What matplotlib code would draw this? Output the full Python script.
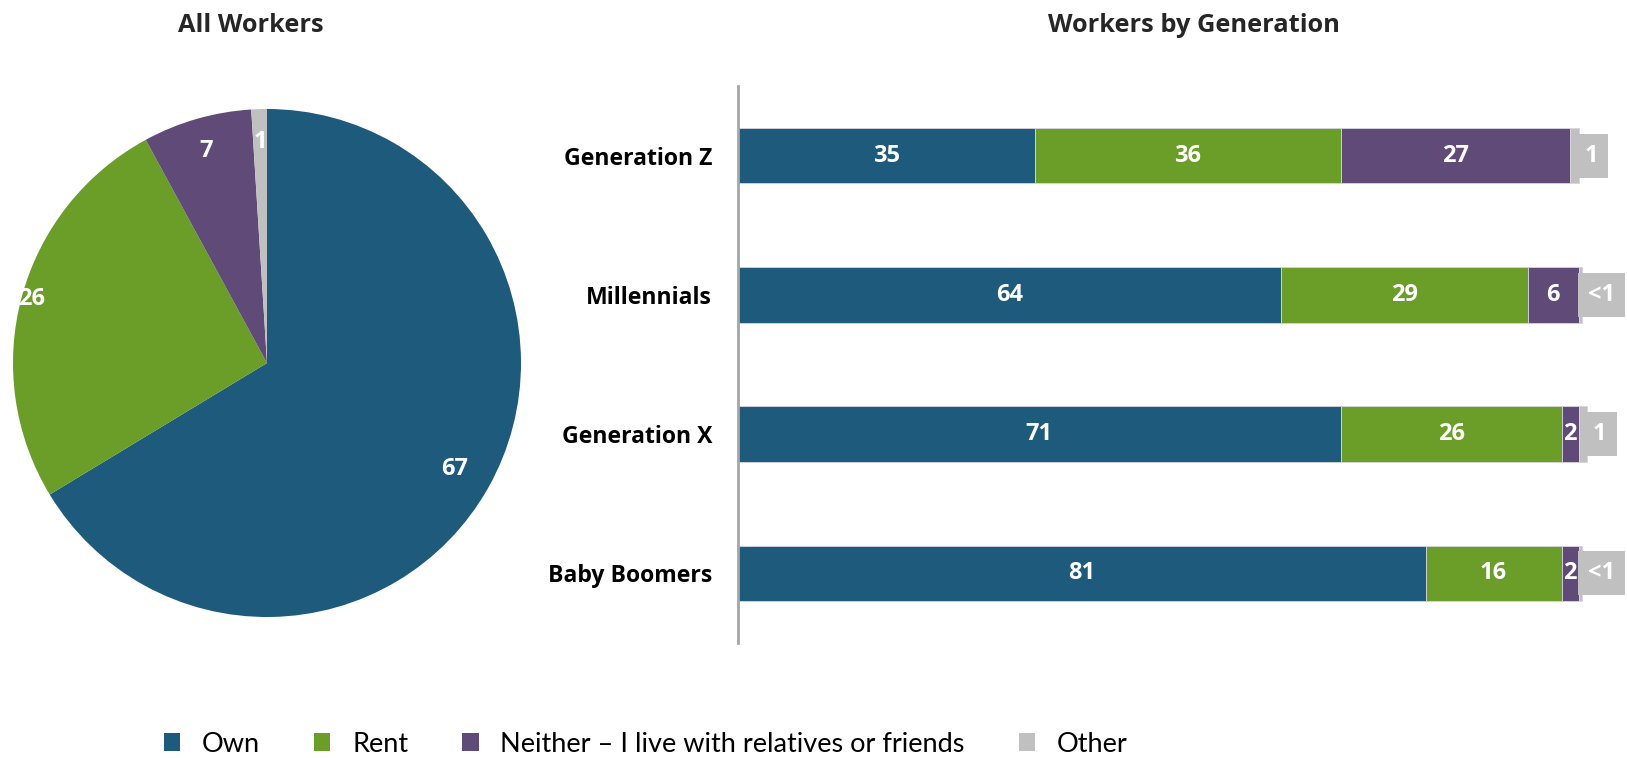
import math
import matplotlib.pyplot as plt
from matplotlib.patches import Patch

# Housing status, percent of workers
CATEGORIES = ["Own", "Rent", "Neither \u2013 I live with relatives or friends", "Other"]
COLORS = ["#1D5A7B", "#6A9E28", "#5F4A78", "#C0C0C0"]

# All workers (pie)
ALL_WORKERS = [67, 26, 7, 1]

# Workers by generation (stacked bars)
GENERATIONS = ["Generation Z", "Millennials", "Generation X", "Baby Boomers"]
OWN = [35, 64, 71, 81]
RENT = [36, 29, 26, 16]
NEITHER = [27, 6, 2, 2]
OTHER = [1, 0.4, 1, 0.4]
OTHER_LABELS = ["1", "<1", "1", "<1"]

W, H = 1627, 758

plt.rcParams["font.family"] = ["Open Sans", "DejaVu Sans"]
fig = plt.figure(figsize=(W / 100, H / 100), dpi=100)

LABEL_FS = 17

# ---- Pie ----
cx, cy, r = 267, 363, 254
ax_pie = fig.add_axes([(cx - r) / W, 1 - (cy + r) / H, 2 * r / W, 2 * r / H])
wedges, _ = ax_pie.pie(ALL_WORKERS, colors=COLORS, startangle=90, counterclock=False)
ax_pie.set_xlim(-1, 1)
ax_pie.set_ylim(-1, 1)
ax_pie.set_aspect("equal")

label_dist = [0.85, 0.96, 0.87, 0.87]
for w, val, d in zip(wedges, ALL_WORKERS, label_dist):
    ang = math.radians((w.theta1 + w.theta2) / 2)
    ax_pie.text(d * math.cos(ang), d * math.sin(ang), str(val), color="white",
                fontsize=LABEL_FS, fontweight="bold", ha="center", va="center")

# ---- Stacked bars ----
left_px, right_px, top_px, bot_px = 738, 1621, 86, 643
ax = fig.add_axes([left_px / W, 1 - bot_px / H, (right_px - left_px) / W, (bot_px - top_px) / H])

y = list(range(len(GENERATIONS)))
series = [OWN, RENT, NEITHER, OTHER]
lefts = [0] * len(GENERATIONS)
bar_h = 0.40
for s_idx, (vals, col) in enumerate(zip(series, COLORS)):
    bars = ax.barh(y, vals, left=lefts, height=bar_h, color=col,
                   edgecolor="#D9D4E0", linewidth=0.6)
    if s_idx < 3:
        for b, v in zip(bars, vals):
            ax.text(b.get_x() + b.get_width() / 2, b.get_y() + bar_h / 2, str(v),
                    color="white", fontsize=LABEL_FS, fontweight="bold",
                    ha="center", va="center")
    else:
        # "Other" labels sit in grey boxes just past the bar end
        for b, lab in zip(bars, OTHER_LABELS):
            ax.text(b.get_x() + b.get_width() + 0.7, b.get_y() + bar_h / 2, lab,
                    color="white", fontsize=LABEL_FS, fontweight="bold",
                    ha="left", va="center", clip_on=False,
                    bbox=dict(boxstyle="square,pad=0.42", fc="#C0C0C0", ec="none"))
    lefts = [a + b for a, b in zip(lefts, vals)]

ax.set_xlim(0, 104)
ax.set_ylim(len(GENERATIONS) - 0.5, -0.5)
ax.set_yticks(y)
ax.set_yticklabels(GENERATIONS, fontsize=16.6, fontweight="bold")
ax.tick_params(axis="y", length=0, pad=18.7)
ax.set_xticks([])
for side in ["top", "right", "bottom"]:
    ax.spines[side].set_visible(False)
ax.spines["left"].set_color("#A6A6A6")
ax.spines["left"].set_linewidth(2)

# ---- Titles ----
fig.text(251 / W, 1 - 32 / H, "All Workers", fontsize=18.3, fontweight="bold",
         color="#262626", ha="center", va="baseline")
fig.text(1194 / W, 1 - 32 / H, "Workers by Generation", fontsize=18.3, fontweight="bold",
         color="#262626", ha="center", va="baseline")

# ---- Legend ----
handles = [Patch(facecolor=c, edgecolor="none") for c in COLORS]
fig.legend(handles, CATEGORIES, loc="center left", bbox_to_anchor=(164 / W, 1 - 744 / H),
           ncol=4, frameon=False, prop={"family": ["Lato", "DejaVu Sans"], "size": 19.5},
           handlelength=0.6, handleheight=0.6, handletextpad=0.8,
           columnspacing=2.0, borderpad=0, borderaxespad=0)

fig.savefig("out.png", dpi=100)
